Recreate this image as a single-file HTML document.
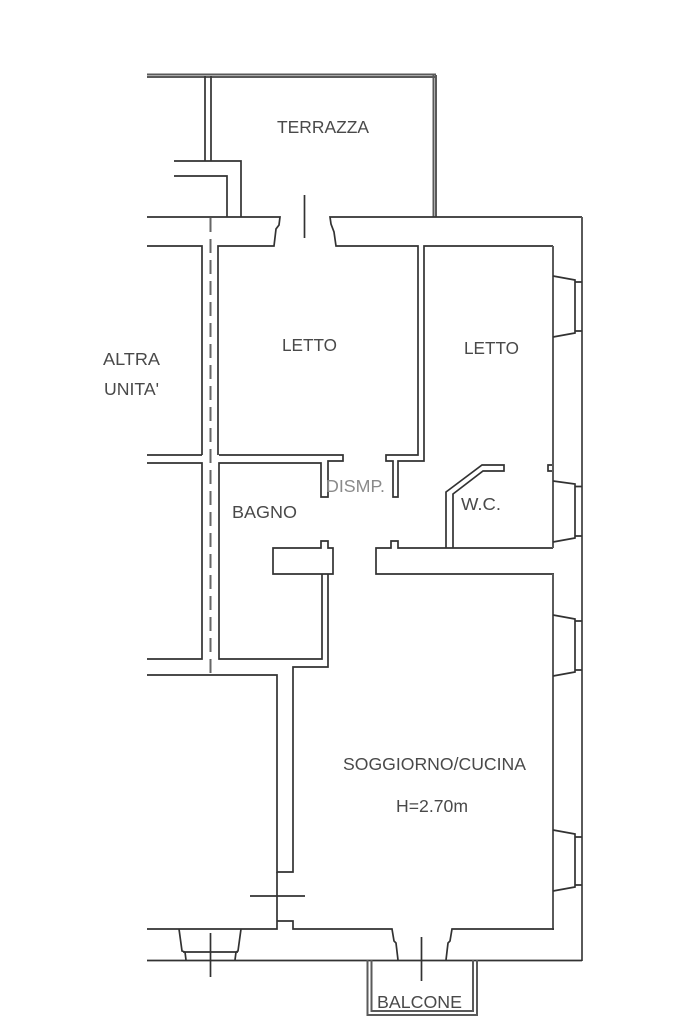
<!DOCTYPE html>
<html>
<head>
<meta charset="utf-8">
<style>
html,body{margin:0;padding:0;background:#fff;width:683px;height:1025px;overflow:hidden}
svg{display:block}
.w{fill:none;stroke:#333;stroke-width:1.7;stroke-linejoin:miter}
.g{fill:none;stroke:#5a5a5a;stroke-width:2}
text{font-family:"Liberation Sans",sans-serif;font-size:17.5px;fill:#4a4a4a}
</style>
</head>
<body>
<svg width="683" height="1025" viewBox="0 0 683 1025" xmlns="http://www.w3.org/2000/svg">
<defs><filter id="b" filterUnits="userSpaceOnUse" x="0" y="0" width="683" height="1025"><feGaussianBlur stdDeviation="0.35"/></filter></defs>
<g filter="url(#b)">

<!-- terrace -->
<path class="g" d="M147 74.500H436M147 77H436"/>
<path class="g" d="M433.500 75V217M436 75V217"/>
<path class="w" d="M205 76V161M211 76V161"/>
<path class="w" d="M174 161H241V217M174 176H227V217"/>

<!-- top wall + door -->
<path class="w" d="M147 217H280L279 225L276 229L274 246H218V455M147 246H202V455"/>
<path class="w" d="M582 217H330L331 224L334 232L336 246H418V455H386V461H393V497H398V461H424V246H553"/>
<path class="w" d="M304.500 195V238"/>

<!-- party wall centre dashed -->
<path d="M210.500 218V675" fill="none" stroke="#666" stroke-width="2" stroke-dasharray="14 7"/>

<!-- bedroom/bath -->
<path class="w" d="M147 455H202M147 463H202V659H147M219 455H343V461H328V497H321V463H219V659H322V574"/>
<path class="w" d="M328 574V667H293V872H277V675H147"/>
<path class="w" d="M273 548V574H333V548H328V541H321V548Z"/>

<!-- W.C. and corridor wall -->
<path class="w" d="M446 548V492L482 465H504V471H483L453 494V548"/>
<path class="w" d="M554 574H376V548H391V541H398V548H553"/>
<path class="w" d="M548 465H553V471H548Z"/>

<!-- outer right walls -->
<path class="g" d="M553 246V548M553 574V930M582 217V961"/>

<!-- right windows -->
<path class="w" d="M553 276L575 280V333L553 337M575 282H582M575 331H582"/>
<path class="w" d="M553 481L575 484V538L553 542M575 486.500H582M575 536H582"/>
<path class="w" d="M553 615L575 619V672L553 676M575 621H582M575 670H582"/>
<path class="w" d="M553 830L575 834V887L553 891M575 837H582M575 885H582"/>

<!-- bottom -->
<path class="w" d="M277 872V921H293V929H392L394 941L396 943L398 960M147 929H277V921"/>
<path class="w" d="M554 929H452L450 941L448 943L446 960"/>
<path class="w" d="M147 960.500H582"/>
<path class="w" d="M250 896H305"/>
<path class="w" d="M179 929L182 951L185 952L186 960M241 929L238 951L236 952L235 960M183 952H238"/>
<path class="w" d="M210.500 933V977M421.500 937V981"/>

<!-- balcony -->
<path class="g" d="M367.500 960V1015H477V960M371.500 960V1011H473V960"/>
</g>

<g filter="url(#b)">
<text x="277" y="133" textLength="92" lengthAdjust="spacingAndGlyphs">TERRAZZA</text>
<text x="282" y="351" textLength="55" lengthAdjust="spacingAndGlyphs">LETTO</text>
<text x="464" y="354" textLength="55" lengthAdjust="spacingAndGlyphs">LETTO</text>
<text x="103" y="365" textLength="57" lengthAdjust="spacingAndGlyphs">ALTRA</text>
<text x="104" y="395" textLength="55" lengthAdjust="spacingAndGlyphs">UNITA'</text>
<text x="326" y="492" textLength="59" lengthAdjust="spacingAndGlyphs" style="fill:#8a8a8a">DISMP.</text>
<text x="232" y="518" textLength="65" lengthAdjust="spacingAndGlyphs">BAGNO</text>
<text x="461" y="510" textLength="40" lengthAdjust="spacingAndGlyphs">W.C.</text>
<text x="343" y="770" textLength="183" lengthAdjust="spacingAndGlyphs">SOGGIORNO/CUCINA</text>
<text x="396" y="812" textLength="72" lengthAdjust="spacingAndGlyphs">H=2.70m</text>
<text x="377" y="1008" textLength="85" lengthAdjust="spacingAndGlyphs">BALCONE</text>
</g>
</svg>
</body>
</html>
